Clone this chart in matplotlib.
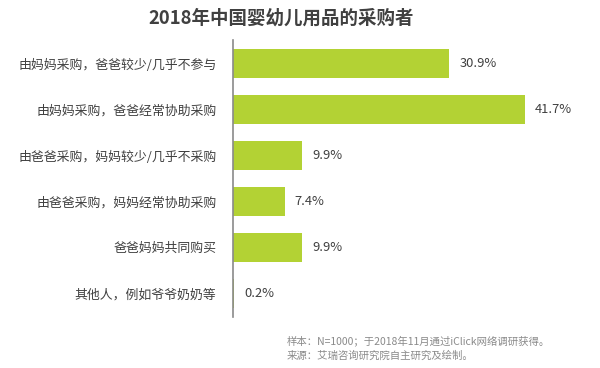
import matplotlib
matplotlib.use("Agg")
import matplotlib.pyplot as plt

plt.rcParams['font.family'] = ['Noto Sans CJK SC', 'DejaVu Sans']

title = "2018年中国婴幼儿用品的采购者"
categories = ["由妈妈采购，爸爸较少/几乎不参与",
              "由妈妈采购，爸爸经常协助采购",
              "由爸爸采购，妈妈较少/几乎不采购",
              "由爸爸采购，妈妈经常协助采购",
              "爸爸妈妈共同购买",
              "其他人，例如爷爷奶奶等"]
values = [30.9, 41.7, 9.9, 7.4, 9.9, 0.2]
value_labels = ["30.9%", "41.7%", "9.9%", "7.4%", "9.9%", "0.2%"]
footnotes = ["样本：N=1000；于2018年11月通过iClick网络调研获得。",
             "来源：艾瑞咨询研究院自主研究及绘制。"]

fig = plt.figure(figsize=(6, 3.68), dpi=100)
fig.patch.set_facecolor('white')
ax = fig.add_axes([233/600, 1-317/368, 1-233/600, 277/368])

y = list(range(len(categories)))
ax.barh(y, values, height=0.63, color='#B3D234')
ax.set_ylim(len(categories)-0.48, -0.52)
ax.set_xlim(0, 52.4)
for s in ['top', 'right', 'bottom']:
    ax.spines[s].set_visible(False)
ax.spines['left'].set_color('#8a8a8a')
ax.spines['left'].set_linewidth(1.2)
ax.set_xticks([])
ax.set_yticks(y)
ax.set_yticklabels(categories, fontsize=9.3, color='#404040')
ax.tick_params(axis='y', length=0, pad=12)
for yi, v, lab in zip(y, values, value_labels):
    ax.text(v + 1.4, yi, lab, va='center', ha='left', fontsize=9.3, color='#404040')

fig.text(281/600, 1-18/368, title, ha='center', va='center', fontsize=13.3,
         fontweight='bold', color='#404040')
fig.text(287/600, 1-341/368, footnotes[0], ha='left', va='center', fontsize=7.5, color='#8a8a8a')
fig.text(287/600, 1-356/368, footnotes[1], ha='left', va='center', fontsize=7.5, color='#8a8a8a')

fig.savefig('out.png', dpi=100)
